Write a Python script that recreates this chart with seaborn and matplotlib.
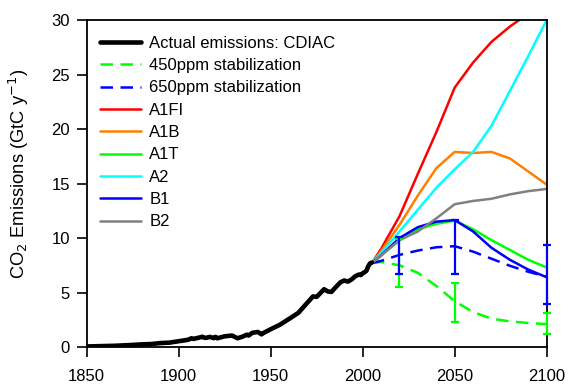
import numpy as np
import pandas as pd
import seaborn as sns
import matplotlib
matplotlib.use("Agg")
import matplotlib.pyplot as plt

# Historical emissions (CDIAC), GtC/yr
hist_years = [1850, 1855, 1860, 1865, 1870, 1875, 1880, 1885, 1890, 1895,
              1900, 1905, 1907, 1908, 1910, 1913, 1914, 1915, 1917, 1919,
              1920, 1921, 1925, 1929, 1930, 1932, 1935, 1937, 1938, 1940,
              1943, 1945, 1946, 1950, 1955, 1960, 1965, 1970, 1973, 1975,
              1979, 1981, 1983, 1985, 1988, 1990, 1992, 1994, 1996, 1998,
              1999, 2000, 2002, 2003, 2004, 2005]
hist_vals = [0.05, 0.07, 0.09, 0.11, 0.15, 0.19, 0.24, 0.27, 0.36, 0.40,
             0.53, 0.66, 0.80, 0.74, 0.82, 0.94, 0.85, 0.84, 0.93, 0.81,
             0.93, 0.80, 0.98, 1.05, 0.97, 0.80, 0.97, 1.13, 1.05, 1.30,
             1.38, 1.16, 1.28, 1.63, 2.04, 2.58, 3.13, 4.08, 4.64, 4.60,
             5.30, 5.10, 5.05, 5.43, 5.95, 6.10, 6.00, 6.20, 6.50, 6.65,
             6.60, 6.76, 6.98, 7.40, 7.68, 7.75]

# Scenario projections
scen_years = [2005, 2010, 2020, 2030, 2040, 2050, 2060, 2070, 2080, 2090, 2100]
s450 = [7.7, 7.8, 7.5, 6.8, 5.6, 4.2, 3.2, 2.6, 2.35, 2.2, 2.1]
s650 = [7.7, 7.9, 8.45, 8.85, 9.15, 9.25, 8.75, 8.1, 7.45, 6.9, 6.45]
a1fi = [7.7, 9.0, 12.0, 15.9, 19.7, 23.8, 26.1, 28.0, 29.4, 30.6, 31.2]
a1b = [7.7, 8.8, 11.2, 13.9, 16.4, 17.9, 17.8, 17.9, 17.3, 16.1, 14.9]
a1t = [7.7, 8.4, 9.8, 10.8, 11.3, 11.6, 10.8, 9.8, 8.9, 8.0, 7.3]
a2 = [7.7, 8.6, 10.6, 12.6, 14.6, 16.3, 17.9, 20.3, 23.5, 26.7, 30.0]
b1 = [7.7, 8.4, 10.0, 11.0, 11.5, 11.65, 10.6, 9.1, 8.0, 7.1, 6.4]
b2 = [7.7, 8.4, 9.8, 10.6, 11.8, 13.1, 13.4, 13.6, 14.0, 14.3, 14.5]

# Uncertainty ranges
bar_years = [2020, 2050, 2100]
green_lo = [5.5, 2.3, 1.15]
green_hi = [9.9, 5.85, 3.15]
blue_lo = [6.7, 6.7, 3.9]
blue_hi = [10.1, 11.65, 9.4]

sns.set_theme(style="ticks")
plt.rcParams['font.family'] = ['Liberation Sans', 'DejaVu Sans']
plt.rcParams['text.color'] = 'black'
plt.rcParams['axes.labelcolor'] = 'black'
plt.rcParams['xtick.color'] = 'black'
plt.rcParams['ytick.color'] = 'black'

fig = plt.figure(figsize=(5.68, 3.85), dpi=100)
ax = fig.add_axes([0.1526, 0.0987, 0.8099, 0.8493])

sns.lineplot(x=hist_years, y=hist_vals, ax=ax, color="black", lw=3.3,
             label="Actual emissions: CDIAC", zorder=5)

dash = (0, (5, 3))
sns.lineplot(x=scen_years, y=s450, ax=ax, color="#00ff00", lw=1.8,
             linestyle=dash, label="450ppm stabilization")
sns.lineplot(x=scen_years, y=s650, ax=ax, color="#0000ff", lw=1.8,
             linestyle=dash, label="650ppm stabilization")

scenarios = [("A1FI", a1fi, "#ff0000"), ("A1B", a1b, "#ff8000"),
             ("A1T", a1t, "#00ff00"), ("A2", a2, "#00ffff"),
             ("B1", b1, "#0000ff"), ("B2", b2, "#808080")]
for name, vals, color in scenarios:
    sns.lineplot(x=scen_years, y=vals, ax=ax, color=color, lw=1.8, label=name)

# error bars
for lo, hi, color in [(green_lo, green_hi, "#00ff00"), (blue_lo, blue_hi, "#0000ff")]:
    lo = np.array(lo)
    hi = np.array(hi)
    ax.errorbar(bar_years, (lo + hi) / 2, yerr=(hi - lo) / 2, fmt="none",
                ecolor=color, elinewidth=1.6, capsize=3, capthick=1.6,
                clip_on=False, zorder=6)

ax.set_xlim(1850, 2100)
ax.set_ylim(0, 30)
ax.set_xticks(range(1850, 2101, 50))
ax.set_yticks(range(0, 31, 5))
ax.set_xlabel("")
ax.set_ylabel("CO$_2$ Emissions (GtC y$^{-1}$)", fontsize=13.2)
ax.yaxis.set_label_coords(-0.122, 0.53)
ax.tick_params(axis="both", labelsize=12, length=7, width=1.2, direction="out",
               color="black")
ax.tick_params(axis="x", pad=9)
ax.tick_params(axis="y", pad=5)
for sp in ax.spines.values():
    sp.set_visible(True)
    sp.set_color("black")
    sp.set_linewidth(1.3)

ax.legend(loc="upper left", bbox_to_anchor=(0.029, 0.952), borderaxespad=0,
          borderpad=0, frameon=False, fontsize=12, handlelength=2.45,
          handletextpad=0.5, labelspacing=0.44)

fig.savefig("out.png", dpi=100)
